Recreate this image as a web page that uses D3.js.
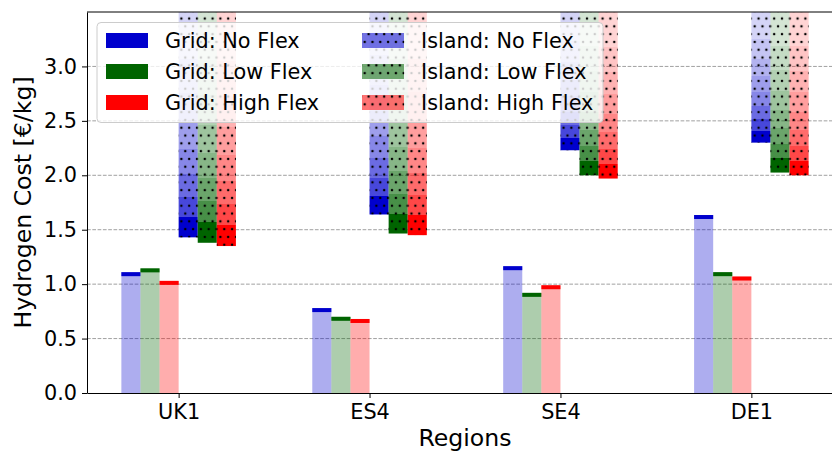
<!DOCTYPE html>
<html>
<head>
<meta charset="utf-8">
<script src="https://cdn.jsdelivr.net/npm/d3@7"></script>
<style>
  body { margin: 0; background: #fff; }
  svg { display: block; font-family: "DejaVu Sans", sans-serif; }
</style>
</head>
<body>
<svg></svg>
<script>
// data
var regions = ["UK1", "ES4", "SE4", "DE1"];
var flexLevels = ["No Flex", "Low Flex", "High Flex"];
var gridNoFlex = [1.11, 0.78, 1.165, 1.635];
var gridLowFlex = [1.145, 0.70, 0.92, 1.11];
var gridHighFlex = [1.03, 0.68, 0.99, 1.07];
var islandNoFlex = [1.43, 1.64, 2.23, 2.30];
var islandLowFlex = [1.38, 1.465, 2.0, 2.025];
var islandHighFlex = [1.35, 1.45, 1.97, 2.0];
var yTicks = [0, 0.5, 1.0, 1.5, 2.0, 2.5, 3.0];

var drawChart = function()
{
  var screen = { width: 832, height: 452 };
  var svg = d3.select('svg')
              .attr('width', screen.width)
              .attr('height', screen.height);

  var plot = { left: 87, right: 843, top: 12, bottom: 393 };
  var colors = ["#0000cd", "#006400", "#ff0000"];
  var barW = 0.1;

  var xscale = d3.scaleLinear()
                .domain([-0.48, 3.48])
                .range([plot.left, plot.right]);
  var yscale = d3.scaleLinear()
                .domain([0, 3.5])
                .range([plot.bottom, plot.top]);

  var defs = svg.append('defs');
  defs.append('clipPath').attr('id', 'plotclip')
      .append('rect')
      .attr('x', plot.left).attr('y', plot.top)
      .attr('width', plot.right - plot.left)
      .attr('height', plot.bottom - plot.top);

  // dotted hatch
  var pat = defs.append('pattern')
      .attr('id', 'dots')
      .attr('patternUnits', 'userSpaceOnUse')
      .attr('width', 7.8).attr('height', 15.6);
  pat.append('circle').attr('cx', 2).attr('cy', 3).attr('r', 1.25).attr('fill', '#000');
  pat.append('circle').attr('cx', 5.9).attr('cy', 10.8).attr('r', 1.25).attr('fill', '#000');

  // stepped fade for island bars (bottom dark -> top light)
  var steps = [[0, 1.0], [0.09, 0.72], [0.18, 0.58], [0.28, 0.47], [0.39, 0.38], [0.51, 0.3], [0.64, 0.23], [0.79, 0.17]];
  colors.forEach(function(c, k)
  {
    var g = defs.append('linearGradient')
        .attr('id', 'fade' + k)
        .attr('x1', 0).attr('y1', 1).attr('x2', 0).attr('y2', 0);
    steps.forEach(function(s, i)
    {
      var end = i < steps.length - 1 ? steps[i + 1][0] : 1;
      g.append('stop').attr('offset', s[0]).attr('stop-color', c).attr('stop-opacity', s[1]);
      g.append('stop').attr('offset', end).attr('stop-color', c).attr('stop-opacity', s[1]);
    });
  });

  // grid lines
  svg.append('g').selectAll('line')
     .data(yTicks.filter(function(d) { return d > 0; }))
     .enter().append('line')
     .attr('x1', plot.left).attr('x2', plot.right)
     .attr('y1', function(d) { return yscale(d); })
     .attr('y2', function(d) { return yscale(d); })
     .attr('stroke', '#a0a0a0').attr('stroke-width', 1)
     .attr('stroke-dasharray', '3.7,1.6');

  var plotLand = svg.append('g').attr('clip-path', 'url(#plotclip)');

  var gridSeries = [gridNoFlex, gridLowFlex, gridHighFlex];
  var islandSeries = [islandNoFlex, islandLowFlex, islandHighFlex];
  var gridOffsets = [-0.25, -0.15, -0.05];
  var islandOffsets = [0.05, 0.15, 0.25];

  gridSeries.forEach(function(series, k)
  {
    var g = plotLand.append('g');
    g.selectAll('rect.fill')
     .data(series).enter().append('rect')
     .attr('x', function(d, i) { return xscale(i + gridOffsets[k] - barW / 2); })
     .attr('width', xscale(barW) - xscale(0))
     .attr('y', function(d) { return yscale(d); })
     .attr('height', function(d) { return yscale(0) - yscale(d); })
     .attr('fill', colors[k]).attr('fill-opacity', 0.32);
    g.selectAll('rect.cap')
     .data(series).enter().append('rect')
     .attr('x', function(d, i) { return xscale(i + gridOffsets[k] - barW / 2); })
     .attr('width', xscale(barW) - xscale(0))
     .attr('y', function(d) { return yscale(d); })
     .attr('height', 4)
     .attr('fill', colors[k]);
  });

  islandSeries.forEach(function(series, k)
  {
    var g = plotLand.append('g');
    g.selectAll('rect.fade')
     .data(series).enter().append('rect')
     .attr('x', function(d, i) { return xscale(i + islandOffsets[k] - barW / 2); })
     .attr('width', xscale(barW) - xscale(0))
     .attr('y', yscale(3.5))
     .attr('height', function(d) { return yscale(d) - yscale(3.5); })
     .attr('fill', 'url(#fade' + k + ')');
    g.selectAll('rect.hatch')
     .data(series).enter().append('rect')
     .attr('x', function(d, i) { return xscale(i + islandOffsets[k] - barW / 2); })
     .attr('width', xscale(barW) - xscale(0))
     .attr('y', yscale(3.5))
     .attr('height', function(d) { return yscale(d) - yscale(3.5); })
     .attr('fill', 'url(#dots)');
  });

  // axes
  var xAxis = d3.axisBottom(xscale)
      .tickValues(d3.range(regions.length))
      .tickFormat(function(i) { return regions[i]; })
      .tickSize(5).tickPadding(5).tickSizeOuter(0);
  var yAxis = d3.axisLeft(yscale)
      .tickValues(yTicks)
      .tickFormat(d3.format('.1f'))
      .tickSize(5).tickPadding(5).tickSizeOuter(0);

  var gx = svg.append('g').attr('transform', 'translate(0,' + plot.bottom + ')').call(xAxis);
  var gy = svg.append('g').attr('transform', 'translate(' + plot.left + ',0)').call(yAxis);
  [gx, gy].forEach(function(a)
  {
    a.select('.domain').attr('stroke', '#000').attr('stroke-width', 1);
    a.selectAll('.tick line').attr('stroke', '#000');
    a.selectAll('.tick text').attr('font-size', 20.8).attr('fill', '#000')
     .attr('font-family', '"DejaVu Sans", sans-serif');
  });
  gx.selectAll('.tick text').attr('dy', '0.76em');

  // top spine
  svg.append('line')
     .attr('x1', plot.left).attr('x2', plot.right)
     .attr('y1', plot.top).attr('y2', plot.top)
     .attr('stroke', '#000').attr('stroke-width', 1);

  svg.append('text')
     .attr('x', (plot.left + plot.right) / 2).attr('y', 446)
     .attr('text-anchor', 'middle').attr('font-size', 23.6)
     .text('Regions');
  svg.append('text')
     .attr('transform', 'translate(31,' + (plot.top + plot.bottom) / 2 + ') rotate(-90)')
     .attr('text-anchor', 'middle').attr('font-size', 23.6)
     .text('Hydrogen Cost [€/kg]');

  // legend
  var legend = svg.append('g');
  legend.append('rect')
     .attr('x', 97).attr('y', 22.5).attr('width', 506).attr('height', 100)
     .attr('rx', 4).attr('fill', '#fff').attr('fill-opacity', 0.8)
     .attr('stroke', '#cccccc').attr('stroke-width', 1);
  var rowY = [33, 64, 95];
  var colX = [106, 362];
  flexLevels.forEach(function(name, k)
  {
    legend.append('rect')
       .attr('x', colX[0]).attr('y', rowY[k]).attr('width', 42).attr('height', 15)
       .attr('fill', colors[k]);
    legend.append('text')
       .attr('x', colX[0] + 59).attr('y', rowY[k] + 15)
       .attr('font-size', 20.8).text('Grid: ' + name);
    legend.append('rect')
       .attr('x', colX[1]).attr('y', rowY[k]).attr('width', 42).attr('height', 15)
       .attr('fill', colors[k]).attr('fill-opacity', 0.55);
    legend.append('rect')
       .attr('x', colX[1]).attr('y', rowY[k]).attr('width', 42).attr('height', 15)
       .attr('fill', 'url(#dots)');
    legend.append('text')
       .attr('x', colX[1] + 59).attr('y', rowY[k] + 15)
       .attr('font-size', 20.8).text('Island: ' + name);
  });
}

drawChart();
</script>
</body>
</html>
